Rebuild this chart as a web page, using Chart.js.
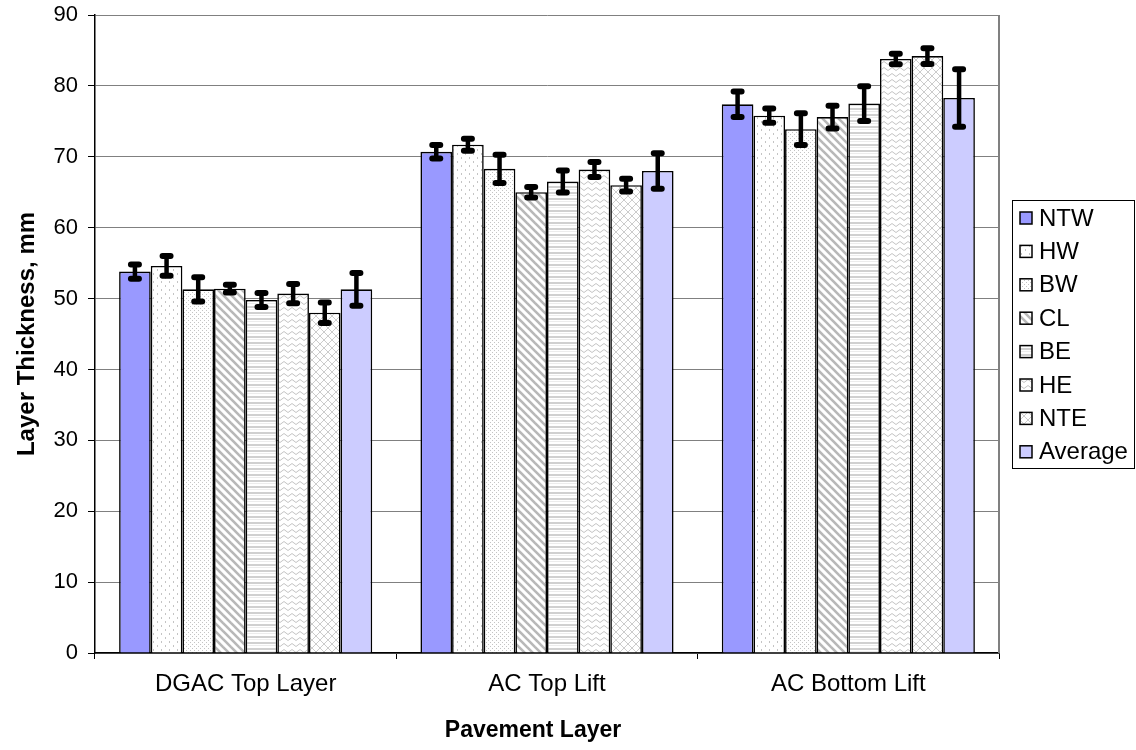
<!DOCTYPE html>
<html>
<head>
<meta charset="utf-8">
<script src="https://cdn.jsdelivr.net/npm/chart.js@4.4.1/dist/chart.umd.min.js"></script>
<style>
  html, body { margin: 0; padding: 0; background: #ffffff; }
  #wrap { width: 1136px; height: 750px; position: relative; }
</style>
</head>
<body>
<div id="wrap"><canvas id="chart" width="1136" height="750"></canvas></div>
<script>
// Pavement layer thickness by position across the roadway
const categories = ['DGAC Top Layer', 'AC Top Lift', 'AC Bottom Lift'];
const seriesNames = ['NTW', 'HW', 'BW', 'CL', 'BE', 'HE', 'NTE', 'Average'];

// Mean thickness (mm) per position
const ntw = [53.8, 70.7, 77.4];
const hw  = [54.6, 71.7, 75.8];
const bw  = [51.3, 68.3, 73.9];
const cl  = [51.4, 65.0, 75.6];
const be  = [49.8, 66.5, 77.5];
const he  = [50.7, 68.2, 83.8];
const nte = [48.0, 66.0, 84.2];
const avg = [51.3, 68.0, 78.3];

// Half-width of the error bar (mm)
const ntwErr = [1.0, 0.95, 1.8];
const hwErr  = [1.4, 0.85, 1.0];
const bwErr  = [1.7, 2.0, 2.25];
const clErr  = [0.55, 0.75, 1.6];
const beErr  = [1.0, 1.55, 2.45];
const heErr  = [1.35, 1.05, 0.75];
const nteErr = [1.45, 0.9, 1.1];
const avgErr = [2.3, 2.5, 4.05];

const yTicks = { min: 0, max: 90, step: 10 };
const xTitle = 'Pavement Layer';
const yTitle = 'Layer Thickness, mm';

const FONT = '"Liberation Sans", Arial, Helvetica, sans-serif';

// ---- fill patterns ----
function makePattern(w, h, draw) {
  const c = document.createElement('canvas');
  c.width = w; c.height = h;
  const g = c.getContext('2d');
  g.fillStyle = '#ffffff';
  g.fillRect(0, 0, w, h);
  draw(g);
  return g.createPattern(c, 'repeat');
}
const sparseDots = makePattern(8, 8, g => {
  g.fillStyle = '#c4c4c4';
  g.fillRect(1, 1, 1, 2);
  g.fillRect(5, 5, 1, 2);
});
const denseDots = makePattern(4, 4, g => {
  g.fillStyle = '#c4c4c4';
  g.fillRect(0, 0, 1, 1);
  g.fillRect(2, 2, 1, 1);
});
const diagStripes = makePattern(8, 8, g => {
  g.strokeStyle = '#b8b8b8';
  g.lineWidth = 2.6;
  for (let k = -1; k <= 1; k++) {
    g.beginPath();
    g.moveTo(k * 8 - 2, -2);
    g.lineTo(k * 8 + 10, 10);
    g.stroke();
  }
});
const horizStripes = makePattern(6, 6, g => {
  g.fillStyle = '#d0d0d0';
  g.fillRect(0, 0, 6, 2);
  g.fillStyle = '#ececec';
  g.fillRect(0, 3, 6, 1);
});
const zigzag = makePattern(8, 6, g => {
  g.strokeStyle = '#c4c4c4';
  g.lineWidth = 1;
  g.beginPath();
  g.moveTo(0, 4.5); g.lineTo(4, 1.5); g.lineTo(8, 4.5);
  g.stroke();
});
const diamonds = makePattern(8, 8, g => {
  g.strokeStyle = '#cccccc';
  g.lineWidth = 1;
  g.beginPath();
  g.moveTo(0, 0); g.lineTo(8, 8);
  g.moveTo(8, 0); g.lineTo(0, 8);
  g.stroke();
});

const fills = ['#9999ff', sparseDots, denseDots, diagStripes, horizStripes, zigzag, diamonds, '#ccccff'];
const values = [ntw, hw, bw, cl, be, he, nte, avg];
const errors = [ntwErr, hwErr, bwErr, clErr, beErr, heErr, nteErr, avgErr];

const datasets = seriesNames.map((name, i) => ({
  label: name,
  data: values[i],
  errors: errors[i],
  backgroundColor: fills[i],
  borderColor: '#000000',
  borderWidth: 1.6,
  borderSkipped: 'start',
  categoryPercentage: 0.84,
  barPercentage: 1.0
}));

// Error bars drawn from each dataset's value ± error
const errorBars = {
  id: 'errorBars',
  afterDatasetsDraw(chart) {
    const ctx = chart.ctx;
    const y = chart.scales.y;
    ctx.save();
    ctx.strokeStyle = '#000000';
    chart.data.datasets.forEach((ds, di) => {
      const meta = chart.getDatasetMeta(di);
      meta.data.forEach((bar, j) => {
        const v = ds.data[j], e = ds.errors[j];
        const x = bar.x;
        const yt = y.getPixelForValue(v + e);
        const yb = y.getPixelForValue(v - e);
        ctx.lineCap = 'butt';
        ctx.lineWidth = 4.5;
        ctx.beginPath();
        ctx.moveTo(x, yt); ctx.lineTo(x, yb);
        ctx.stroke();
        ctx.lineCap = 'round';
        ctx.lineWidth = 6;
        ctx.beginPath();
        ctx.moveTo(x - 4, yt); ctx.lineTo(x + 4, yt);
        ctx.moveTo(x - 4, yb); ctx.lineTo(x + 4, yb);
        ctx.stroke();
      });
    });
    ctx.restore();
  }
};

// Plot frame on the right side, x-axis title and boxed legend
const frameAndLegend = {
  id: 'frameAndLegend',
  beforeDatasetsDraw(chart) {
    const { ctx, chartArea } = chart;
    ctx.save();
    ctx.strokeStyle = '#808080';
    ctx.lineWidth = 2;
    ctx.beginPath();
    ctx.moveTo(chartArea.right, chartArea.top);
    ctx.lineTo(chartArea.right, chartArea.bottom);
    ctx.stroke();
    ctx.restore();
  },
  afterDraw(chart) {
    const ctx = chart.ctx;
    ctx.save();
    // x-axis title
    ctx.fillStyle = '#000000';
    ctx.font = 'bold 23px ' + FONT;
    ctx.textAlign = 'center';
    ctx.textBaseline = 'middle';
    ctx.fillText(xTitle, 533, 731);

    // legend
    const left = 1012, top = 200, right = 1135, bottom = 468;
    ctx.strokeStyle = '#000000';
    ctx.lineWidth = 1;
    ctx.strokeRect(left + 0.5, top + 0.5, right - left - 1, bottom - top);
    ctx.font = '24px ' + FONT;
    ctx.textBaseline = 'middle';
    ctx.textAlign = 'left';
    chart.data.datasets.forEach((ds, i) => {
      const cy = 218 + i * 33.4;
      ctx.fillStyle = ds.backgroundColor;
      ctx.fillRect(1020, cy - 6, 12, 12);
      ctx.strokeStyle = '#000000';
      ctx.lineWidth = 1.5;
      ctx.strokeRect(1020, cy - 6, 12, 12);
      ctx.fillStyle = '#000000';
      ctx.fillText(ds.label, 1039, cy + 1);
    });
    ctx.restore();
  }
};

new Chart(document.getElementById('chart'), {
  type: 'bar',
  data: { labels: categories, datasets },
  options: {
    responsive: false,
    animation: false,
    layout: { padding: { top: 15, right: 137, left: 0, bottom: 0 } },
    plugins: {
      legend: { display: false },
      tooltip: { enabled: false }
    },
    scales: {
      x: {
        offset: true,
        grid: {
          offset: true,
          drawOnChartArea: false,
          drawTicks: true,
          tickLength: 6,
          tickColor: '#000000',
          lineWidth: 1
        },
        border: { color: '#000000', width: 1.5 },
        ticks: {
          color: '#000000',
          font: { family: FONT, size: 24 },
          padding: 11,
          maxRotation: 0
        },
        title: { display: false },
        afterFit(scale) { scale.height = 97; }
      },
      y: {
        min: yTicks.min,
        max: yTicks.max,
        ticks: {
          stepSize: yTicks.step,
          color: '#000000',
          font: { family: FONT, size: 22 },
          padding: 10
        },
        grid: {
          color: '#808080',
          lineWidth: 1,
          tickColor: '#000000',
          tickLength: 7
        },
        border: { color: '#000000', width: 1.5 },
        title: {
          display: true,
          text: yTitle,
          color: '#000000',
          font: { family: FONT, size: 24, weight: 'bold' },
          padding: { top: 13, bottom: 0 }
        },
        afterFit(scale) {
          scale.width = 95;
          scale.paddingTop = 0;
          scale.paddingBottom = 0;
        }
      }
    }
  },
  plugins: [errorBars, frameAndLegend]
});
</script>
</body>
</html>
